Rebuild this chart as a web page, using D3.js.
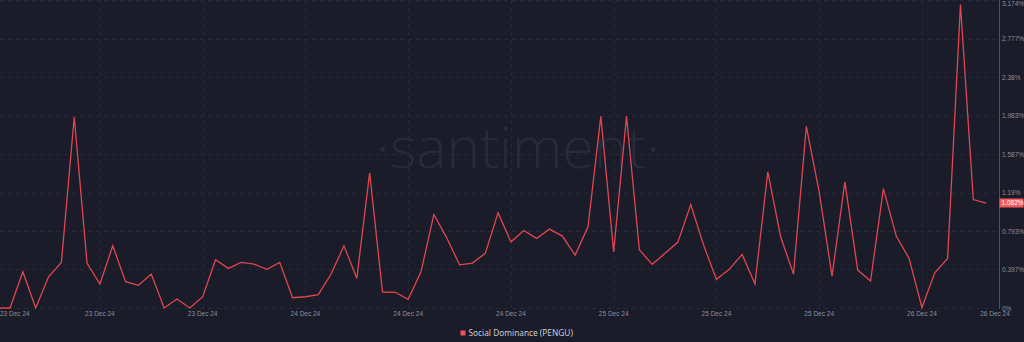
<!DOCTYPE html>
<html>
<head>
<meta charset="utf-8">
<script src="https://cdn.jsdelivr.net/npm/d3@7"></script>
<style>
  html, body { margin: 0; padding: 0; background: #1b1c2a; }
  svg { display: block; }
</style>
</head>
<body>
<svg id="chart" width="1024" height="342"></svg>
<script>
// ---- data (hourly, starting 23 Dec 2024 00:00) ----
const startTime = new Date(2024, 11, 23, 0, 0);
const seriesName = "Social Dominance (PENGU)";
const dominance = [
  0, 0, 0.373, 0, 0.322, 0.470, 1.968, 0.460, 0.247, 0.641,
  0.271, 0.234, 0.350, 0, 0.093, 0, 0.116, 0.497, 0.408, 0.470,
  0.453, 0.398, 0.470, 0.106, 0.116, 0.137, 0.350, 0.641, 0.306, 1.392,
  0.165, 0.162, 0.090, 0.373, 0.964, 0.723, 0.445, 0.463, 0.563, 0.980,
  0.682, 0.799, 0.717, 0.813, 0.741, 0.545, 0.836, 1.975, 0.579, 1.975,
  0.600, 0.450, 0.563, 0.679, 1.067, 0.648, 0.295, 0.398, 0.552, 0.250,
  1.402, 0.734, 0.350, 1.872, 1.196, 0.329, 1.299, 0.391, 0.278, 1.231,
  0.741, 0.511, 0.005, 0.363, 0.511, 3.128, 1.118, 1.082
];
const yTicks = [0, 0.397, 0.793, 1.19, 1.587, 1.983, 2.38, 2.777, 3.174];
const yTickLabels = ["0%", "0.397%", "0.793%", "1.19%", "1.587%", "1.983%", "2.38%", "2.777%", "3.174%"];
const xTickHours = [8, 16, 24, 32, 40, 48, 56, 64, 72];
const lastValueLabel = "1.082%";

// ---- layout ----
const W = 1024, H = 342;
const plot = { left: 0, right: 999, top: 0, bottom: 308 };
const hour = 3600 * 1000;
const times = dominance.map((_, i) => new Date(startTime.getTime() + i * hour));

const x = d3.scaleTime()
  .domain([new Date(startTime.getTime() + 0.22 * hour), new Date(startTime.getTime() + 78 * hour)])
  .range([plot.left, plot.right]);
const y = d3.scaleLinear().domain([0, 3.174]).range([plot.bottom, plot.top]);

const svg = d3.select("#chart");
svg.append("rect").attr("width", W).attr("height", H).attr("fill", "#1b1c2a");

svg.append("defs").append("clipPath").attr("id", "clip")
  .append("rect").attr("x", plot.left).attr("y", -2).attr("width", plot.right - plot.left).attr("height", plot.bottom + 4);

// gridlines
const grid = svg.append("g");
grid.selectAll("line.h").data(yTicks).join("line")
  .attr("x1", plot.left).attr("x2", plot.right)
  .attr("y1", d => Math.round(y(d)) + 0.5).attr("y2", d => Math.round(y(d)) + 0.5)
  .attr("stroke", "#252838").attr("stroke-dasharray", "4,4").attr("stroke-width", 1);
const xTickTimes = xTickHours.map(h => new Date(startTime.getTime() + h * hour));
grid.selectAll("line.v").data(xTickTimes).join("line")
  .attr("x1", d => Math.round(x(d)) + 0.5).attr("x2", d => Math.round(x(d)) + 0.5)
  .attr("y1", plot.top).attr("y2", plot.bottom)
  .attr("stroke", "#252838").attr("stroke-dasharray", "4,4").attr("stroke-width", 1);

// watermark
svg.append("text")
  .attr("x", 518).attr("y", 168)
  .attr("text-anchor", "middle")
  .attr("font-family", "'Open Sans', 'Noto Sans', sans-serif")
  .attr("font-weight", 300)
  .attr("font-size", 57)
  .attr("fill", "#262a3b")
  .text("·santiment·");

// line
const line = d3.line().x((d, i) => x(times[i])).y(d => y(d));
svg.append("path")
  .datum(dominance)
  .attr("clip-path", "url(#clip)")
  .attr("fill", "none")
  .attr("stroke", "#e0464f")
  .attr("stroke-width", 1.3)
  .attr("stroke-linejoin", "miter")
  .attr("d", line);

// right axis line
svg.append("line")
  .attr("x1", plot.right + 0.5).attr("x2", plot.right + 0.5)
  .attr("y1", 0).attr("y2", plot.bottom + 1)
  .attr("stroke", "#8b3743").attr("stroke-width", 1);

// y tick labels
const fontFam = "'Liberation Sans', Arial, sans-serif";
svg.append("g").selectAll("text").data(yTicks).join("text")
  .attr("x", plot.right + 3)
  .attr("y", (d, i) => Math.max(y(d) + 2.5, 5.5))
  .attr("font-family", fontFam).attr("font-size", 6.5)
  .attr("fill", "#8a8d9c")
  .text((d, i) => yTickLabels[i]);

// x axis labels
const fmt = d3.timeFormat("%d Dec %y");
const xa = svg.append("g").attr("font-family", fontFam).attr("font-size", 6.5).attr("fill", "#8a8d9c");
xa.selectAll("text.t").data(xTickTimes).join("text")
  .attr("x", d => x(d)).attr("y", 315.5).attr("text-anchor", "middle")
  .text(d => fmt(d));
// edge labels
xa.append("text").attr("x", plot.left).attr("y", 315.5).attr("text-anchor", "start")
  .text(fmt(x.domain()[0]));
xa.append("text").attr("x", plot.right - 4).attr("y", 315.5).attr("text-anchor", "middle")
  .text(fmt(x.domain()[1]));

// last value label
const lastY = y(dominance[dominance.length - 1]);
svg.append("rect")
  .attr("x", plot.right + 0.5).attr("y", lastY - 4.5)
  .attr("width", 24).attr("height", 9).attr("fill", "#f25c5c");
svg.append("text")
  .attr("x", plot.right + 2.5).attr("y", lastY + 2.3)
  .attr("font-family", fontFam).attr("font-size", 6.5).attr("fill", "#ffffff")
  .text(lastValueLabel);

// legend
const lg = svg.append("g").attr("transform", "translate(460.5,333)");
lg.append("rect").attr("x", 0).attr("y", -2.5).attr("width", 5).attr("height", 5).attr("fill", "#f0505a");
lg.append("text").attr("x", 8).attr("y", 3)
  .attr("font-family", "'Noto Sans', 'Open Sans', sans-serif").attr("font-size", 8.3)
  .attr("fill", "#c9cad2").text(seriesName);
</script>
</body>
</html>
